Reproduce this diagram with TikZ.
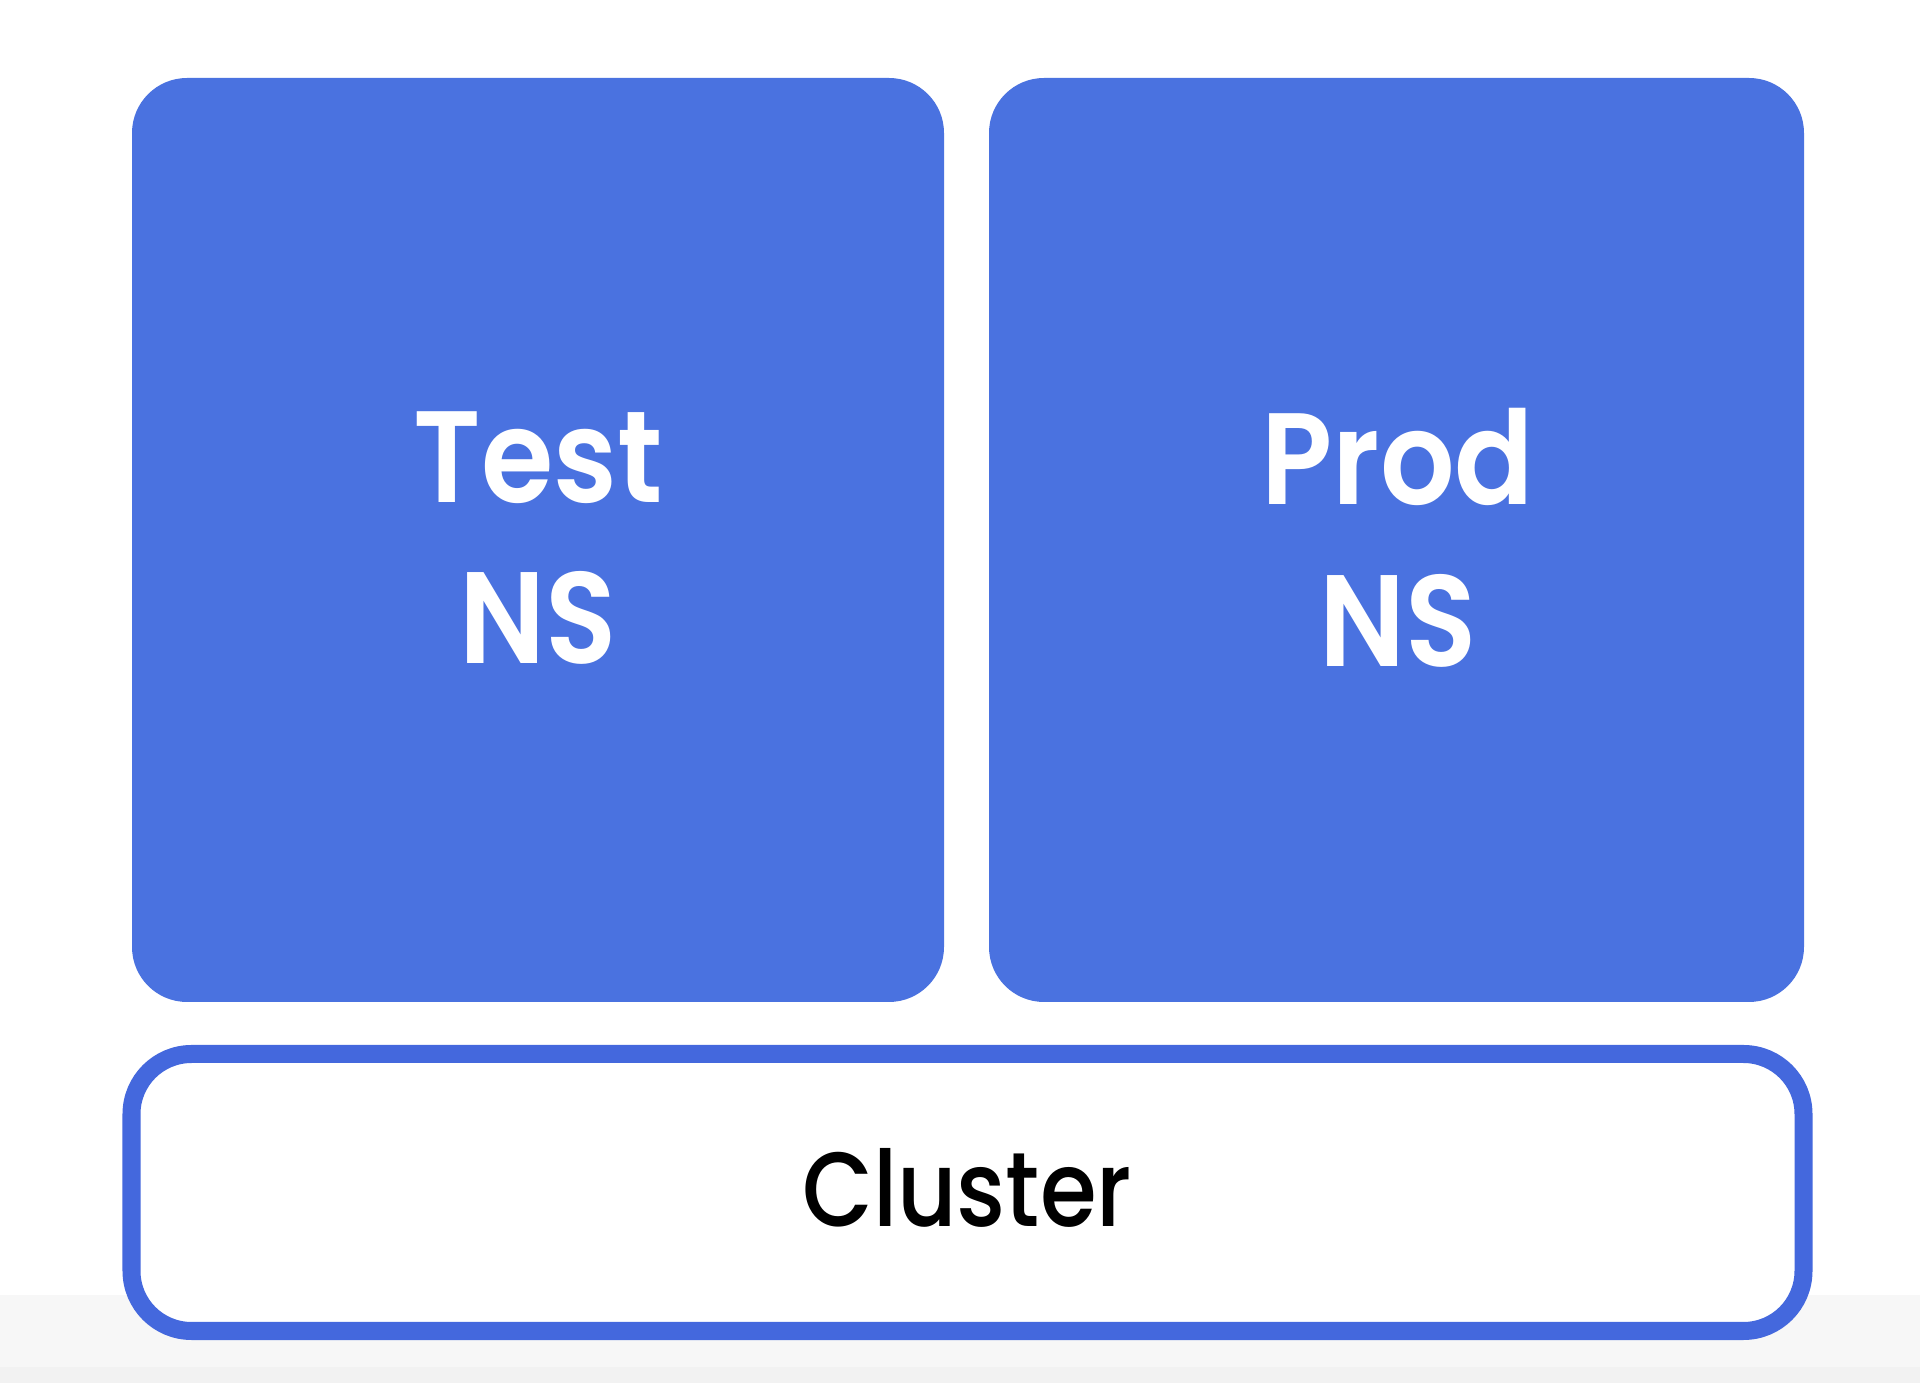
\documentclass[tikz,border=0pt]{standalone}
\usepackage{fontspec}
\setmainfont{Poppins}
\newfontfamily\nsfont{Poppins SemiBold}[FakeStretch=0.9]
\newfontfamily\clfont{Poppins Medium}[FakeStretch=0.87]
\definecolor{nsblue}{RGB}{74,114,224}
\definecolor{clblue}{RGB}{68,104,221}
\definecolor{bandA}{RGB}{247,247,247}
\definecolor{bandB}{RGB}{242,242,242}
\begin{document}
\begin{tikzpicture}[x=0.01cm,y=-0.01cm,
  nsbox/.style={fill=nsblue, draw=none, rounded corners=0.55cm},
  nslabel/.style={text=white, font=\fontsize{37}{46}\nsfont, align=center},
  clbox/.style={draw=clblue, line width=1.8mm, fill=white, rounded corners=0.6cm},
  cllabel/.style={text=black, font=\fontsize{30}{36}\clfont}]
\fill[white] (0,0) rectangle (1920,1383);
\fill[bandA] (0,1295) rectangle (1920,1367);
\fill[bandB] (0,1367) rectangle (1920,1383);
\useasboundingbox (0,0) rectangle (1920,1383);
\fill[nsbox] (132,78) rectangle (944,1002);
\fill[nsbox] (989,78) rectangle (1804,1002);
\node[nslabel] (test) at (538,538) {Test\\NS};
\node[nslabel] (prod) at (1398,538) {Prod\\NS};
\draw[clbox] (131.5,1054) rectangle (1803.5,1331);
\node[cllabel] (cluster) at (967,1188) {Cluster};
\end{tikzpicture}
\end{document}
